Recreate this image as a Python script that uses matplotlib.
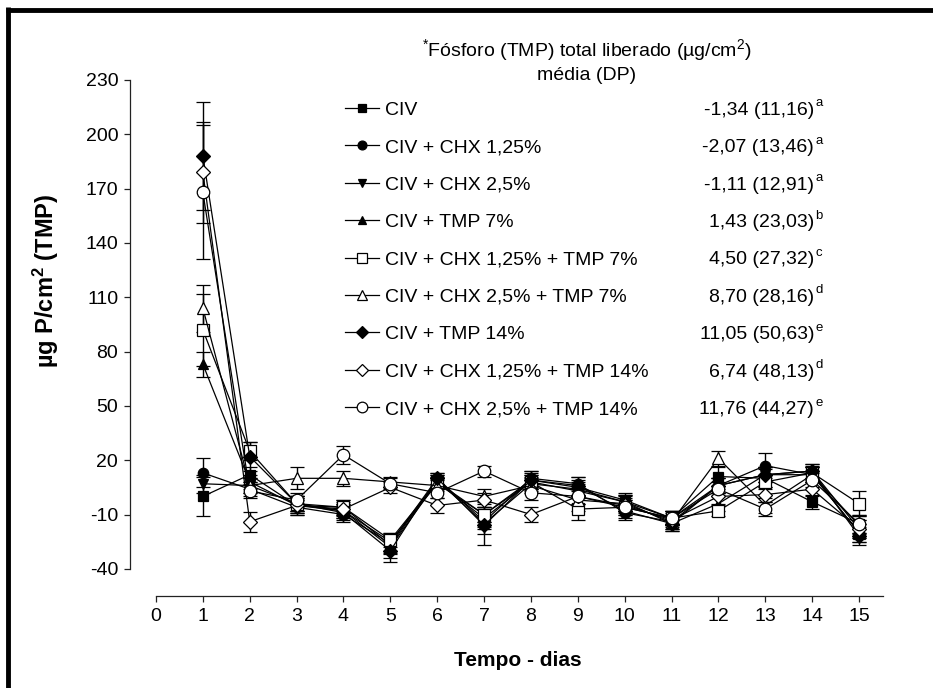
import matplotlib
matplotlib.use('Agg')
import matplotlib.pyplot as plt
from matplotlib.lines import Line2D

plt.rcParams['font.family'] = ['Liberation Sans', 'DejaVu Sans']
plt.rcParams['axes.unicode_minus'] = False
plt.rcParams['mathtext.fontset'] = 'custom'
plt.rcParams['mathtext.rm'] = 'Liberation Sans'
plt.rcParams['mathtext.it'] = 'Liberation Sans'
plt.rcParams['mathtext.bf'] = 'Liberation Sans:bold'

# ---------------- data ----------------
days = list(range(1, 16))
x_ticks = list(range(0, 16))
y_ticks = [-40, -10, 20, 50, 80, 110, 140, 170, 200, 230]

labels = ["CIV", "CIV + CHX 1,25%", "CIV + CHX 2,5%", "CIV + TMP 7%",
          "CIV + CHX 1,25% + TMP 7%", "CIV + CHX 2,5% + TMP 7%",
          "CIV + TMP 14%", "CIV + CHX 1,25% + TMP 14%", "CIV + CHX 2,5% + TMP 14%"]
summary = ["-1,34 (11,16)", "-2,07 (13,46)", "-1,11 (12,91)", "1,43 (23,03)",
           "4,50 (27,32)", "8,70 (28,16)", "11,05 (50,63)", "6,74 (48,13)",
           "11,76 (44,27)"]
letters = ["a", "a", "a", "b", "c", "d", "e", "d", "e"]

civ          = [0, 12, -5, -8, -28, 8, -12, 8, 3, -3, -12, 11, 10, -3, -15]
civ_sd       = [11, 4, 5, 4, 6, 4, 5, 4, 4, 4, 4, 5, 5, 4, 5]
chx125       = [13, 4, -6, -10, -26, 10, -14, 10, 7, -9, -14, 6, 17, 12, -20]
chx125_sd    = [8, 4, 4, 4, 5, 3, 4, 4, 4, 4, 4, 4, 7, 4, 5]
chx25        = [7, 6, -4, -8, -25, 7, -10, 9, 5, -2, -12, 6, 12, 12, -16]
chx25_sd     = [5, 4, 4, 4, 5, 3, 4, 4, 4, 4, 4, 4, 4, 4, 5]
tmp7         = [73, 8, -5, -6, -27, 9, -15, 7, 4, -3, -15, -4, 12, 14, -18]
tmp7_sd      = [7, 4, 4, 4, 5, 3, 12, 4, 4, 4, 4, 4, 4, 4, 5]
chx125_tmp7  = [92, 25, -4, -6, -24, 8, -10, 8, -7, -6, -12, -8, 8, 13, -4]
chx125_tmp7_sd = [20, 5, 4, 4, 4, 3, 4, 4, 6, 4, 4, 3, 4, 4, 7]
chx25_tmp7   = [104, 6, 10, 10, 8, 6, 0, 6, -2, -4, -14, 21, -5, 12, -20]
chx25_tmp7_sd = [13, 4, 6, 4, 3, 3, 4, 4, 6, 4, 4, 4, 4, 4, 5]
tmp14        = [188, 22, -4, -9, -30, 10, -16, 9, 6, -8, -15, 6, 12, 14, -22]
tmp14_sd     = [30, 8, 4, 4, 6, 3, 5, 5, 5, 4, 4, 4, 4, 4, 5]
chx125_tmp14 = [179, -14, -5, -7, 5, -5, -2, -10, 0, -5, -13, 0, 1, 4, -18]
chx125_tmp14_sd = [28, 5.5, 4, 4, 3, 4, 4, 4, 4, 4, 4, 4, 4, 4, 5]
chx25_tmp14  = [168, 3, -2, 23, 7, 2, 14, 2, 0, -6, -12, 4, -7, 9, -15]
chx25_tmp14_sd = [37, 4, 4, 5, 3, 3, 3, 4, 4, 4, 4, 4, 4, 4, 5]

means = [civ, chx125, chx25, tmp7, chx125_tmp7, chx25_tmp7, tmp14, chx125_tmp14, chx25_tmp14]
sds = [civ_sd, chx125_sd, chx25_sd, tmp7_sd, chx125_tmp7_sd, chx25_tmp7_sd,
       tmp14_sd, chx125_tmp14_sd, chx25_tmp14_sd]

# ---------------- style ----------------
markers = ['s', 'o', 'v', '^', 's', '^', 'D', 'D', 'o']
filled = [True, True, True, True, False, False, True, False, False]
msizes = [7, 7.5, 7.5, 7.5, 8, 8.5, 7, 7.5, 9]

W, H = 933, 688
fig = plt.figure(figsize=(W / 100, H / 100), dpi=100)
ax_left, ax_right, ax_top, ax_bottom = 130, 882.5, 80, 596
ax = fig.add_axes([ax_left / W, 1 - ax_bottom / H, (ax_right - ax_left) / W, (ax_bottom - ax_top) / H])

for m, sd, mk, fl, ms in zip(means, sds, markers, filled, msizes):
    ax.errorbar(days, m, yerr=sd, color='black', lw=0.9, marker=mk, ms=ms,
                mfc='black' if fl else 'white', mec='black', mew=0.9,
                elinewidth=1.0, capsize=5, capthick=1.0)

ax.set_xlim(-0.555, 15.5)
ax.set_ylim(-55, 230)
for s in ['top', 'right']:
    ax.spines[s].set_visible(False)
ax.spines['left'].set_bounds(-40, 230)
ax.spines['bottom'].set_bounds(0, 15.5)
for s in ['left', 'bottom']:
    ax.spines[s].set_linewidth(0.9)
    ax.spines[s].set_color('#222222')
ax.set_xticks(x_ticks)
ax.set_yticks(y_ticks)
ax.tick_params(axis='both', labelsize=14, length=4.5, width=0.9, color='#222222', pad=4)

ax.set_ylabel(r"µg P/cm$^{\mathbf{2}}$ (TMP)", fontsize=17, fontweight='bold')
ax.yaxis.set_label_coords(-0.0916, 0.61)
fig.text(518 / W, 1 - 661 / H, "Tempo - dias", fontsize=15, fontweight='bold',
         ha='center', va='center')

# title of the legend block
fig.text(587 / W, 1 - 50 / H, r"$^{*}$Fósforo (TMP) total liberado (µg/cm$^{2}$)", fontsize=14,
         ha='center', va='center')
fig.text(587 / W, 1 - 75 / H, "média (DP)", fontsize=14, ha='center', va='center')

handles = [Line2D([0], [0], color='black', lw=0.9, marker=mk, ms=ms * 0.85,
                  mfc='black' if fl else 'white', mec='black', mew=0.9)
           for mk, fl, ms in zip(markers, filled, msizes)]
leg = fig.legend(handles, labels, loc='upper left', bbox_to_anchor=(345 / W, 1 - 101 / H),
                 frameon=False, fontsize=14, borderpad=0, borderaxespad=0,
                 handlelength=1.75, handletextpad=0.3, labelspacing=1.02)

fig.canvas.draw()
inv = fig.transFigure.inverted()
for txt, val, let in zip(leg.get_texts(), summary, letters):
    bb = txt.get_window_extent()
    (_, y0), (_, y1) = inv.transform([(0, bb.y0), (0, bb.y1)])
    fig.text(814 / W, y0, val, fontsize=14, ha='right', va='bottom')
    fig.text(815 / W, y0 + (y1 - y0) * 0.55, let, fontsize=9.5, ha='left', va='bottom')

# outer frame (left and top visible)
fig.add_artist(Line2D([8 / W, 8 / W], [0, 1 - 7 / H], color='black', lw=3.5,
                      transform=fig.transFigure, solid_capstyle='butt'))
fig.add_artist(Line2D([6 / W, 1], [1 - 9.5 / H, 1 - 9.5 / H], color='black', lw=3.5,
                      transform=fig.transFigure, solid_capstyle='butt'))

fig.savefig('out.png', dpi=100)
